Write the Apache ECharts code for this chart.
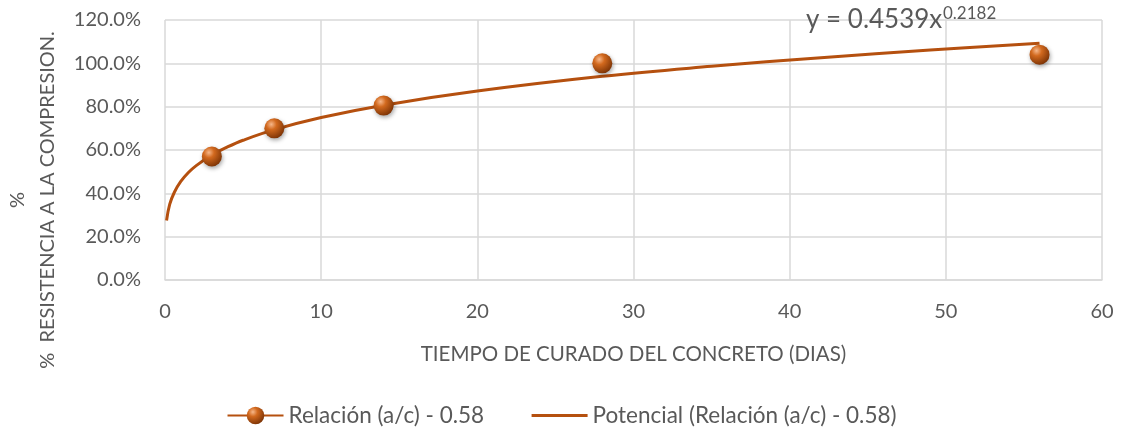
<!DOCTYPE html>
<html><head><meta charset="utf-8">
<script src="https://cdn.jsdelivr.net/npm/echarts@6/dist/echarts.min.js"></script>
<style>html,body{margin:0;padding:0;background:#fff}#c{width:1123px;height:432px}</style>
</head><body><div id="c"></div>
<script>
// Measured data (days, fraction of strength)
const days = [3, 7, 14, 28, 56];
const strength = [0.57, 0.70, 0.805, 1.00, 1.04];
// Trendline (power fit shown in chart) points
const trendDays = [0.1, 0.3, 0.6, 1, 1.5, 2, 3, 4, 5, 7, 10, 14, 20, 28, 35, 42, 49, 56];
const trendVals = [0.275, 0.349, 0.405, 0.454, 0.496, 0.528, 0.577, 0.614, 0.645, 0.694, 0.750, 0.807, 0.872, 0.940, 0.986, 1.026, 1.061, 1.093];
const xTicks = [0, 10, 20, 30, 40, 50, 60];
const yTicks = [0, 0.2, 0.4, 0.6, 0.8, 1.0, 1.2];
const seriesNames = ['Relación (a/c) - 0.58', 'Potencial (Relación (a/c) - 0.58)'];
const equation = ['y = 0.4539x', '0.2182'];
const xTitle = 'TIEMPO DE CURADO DEL CONCRETO (DIAS)';
const yTitle = '%\n%  RESISTENCIA A LA COMPRESION.';

const FONT = 'Lato, "Open Sans", sans-serif';
const TXT = '#595959';
const LINE = '#B5500F';
const ball = new echarts.graphic.RadialGradient(0.35, 0.3, 0.75, [
  {offset: 0, color: '#F6B78A'},
  {offset: 0.35, color: '#D2691E'},
  {offset: 1, color: '#7A3205'}
]);

const chart = echarts.init(document.getElementById('c'));
chart.setOption({
  animation: false,
  textStyle: {fontFamily: FONT},
  grid: {left: 165, right: 21, top: 20, bottom: 152, containLabel: false, outerBoundsMode: 'none'},
  xAxis: {
    type: 'value', min: xTicks[0], max: xTicks[xTicks.length - 1], interval: 10,
    axisLine: {show: true, lineStyle: {color: '#D9D9D9', width: 1.5}},
    axisTick: {show: false},
    splitLine: {show: true, lineStyle: {color: '#D9D9D9', width: 1.5}},
    axisLabel: {color: TXT, fontSize: 20, margin: 22, fontFamily: FONT},
    name: xTitle, nameLocation: 'middle', nameGap: 64,
    nameTextStyle: {color: TXT, fontSize: 20.5, fontFamily: FONT}
  },
  yAxis: {
    type: 'value', min: yTicks[0], max: yTicks[yTicks.length - 1], interval: 0.2,
    axisLine: {show: false}, axisTick: {show: false},
    splitLine: {show: true, lineStyle: {color: '#D9D9D9', width: 1.5}},
    axisLabel: {color: TXT, fontSize: 20, margin: 24, fontFamily: FONT,
      formatter: v => (v * 100).toFixed(1) + '%'}
  },
  legend: {
    bottom: 0, left: 'center', itemGap: 46, itemWidth: 56, itemHeight: 22,
    textStyle: {color: TXT, fontSize: 22.5, fontFamily: FONT},
    data: [
      {name: seriesNames[0], itemStyle: {color: ball}, lineStyle: {color: LINE, width: 2, opacity: 1}},
      {name: seriesNames[1], itemStyle: {color: 'rgba(0,0,0,0)', opacity: 0, borderWidth: 0}, lineStyle: {color: LINE, width: 3, opacity: 1}}
    ]
  },
  series: [
    {
      name: seriesNames[1], type: 'line', smooth: 0.4, symbol: 'none', showSymbol: false, z: 2,
      data: trendDays.map((d, i) => [d, trendVals[i]]),
      lineStyle: {color: LINE, width: 3}, itemStyle: {color: LINE}
    },
    {
      name: seriesNames[0], type: 'line', symbol: 'circle', symbolSize: 20, z: 3,
      data: days.map((d, i) => [d, strength[i]]),
      lineStyle: {opacity: 0, color: LINE, width: 2},
      itemStyle: {color: ball, shadowColor: 'rgba(0,0,0,0.35)', shadowBlur: 4, shadowOffsetX: 1, shadowOffsetY: 2}
    }
  ],
  graphic: [
    {type: 'text', x: 33, y: 200, rotation: Math.PI / 2, z: 10,
      style: {text: yTitle, fontSize: 20, lineHeight: 30, fill: TXT, fontFamily: FONT,
        align: 'center', verticalAlign: 'middle'}},
    {type: 'text', left: 806, top: 7, z: 10,
      style: {text: equation[0], fontSize: 26, fill: TXT, fontFamily: FONT}},
    {type: 'text', left: 943, top: 5, z: 10,
      style: {text: equation[1], fontSize: 17, fill: TXT, fontFamily: FONT}}
  ]
});
</script></body></html>
